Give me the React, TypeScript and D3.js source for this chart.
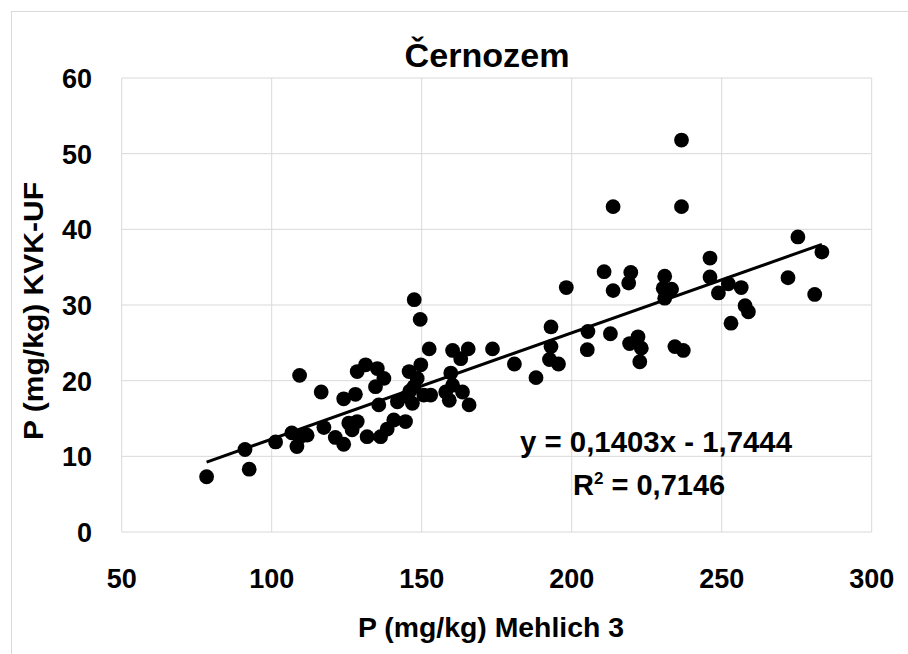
import React from "react";
import * as d3 from "d3";

const xTicks = [50, 100, 150, 200, 250, 300];
const yTicks = [0, 10, 20, 30, 40, 50, 60];

const mehlichX = [
  78.3, 91.1, 92.5, 101.3, 106.7, 108.4, 109.5, 111.8, 109.3, 116.5,
  117.4, 121.2, 124.0, 124.0, 125.7, 126.8, 127.9, 128.5, 128.5, 131.3,
  131.8, 135.2, 137.4, 134.6, 135.7, 136.3, 138.5, 140.7, 144.6, 141.9,
  145.2, 146.9, 145.8, 149.7, 147.4, 150.7, 153.0, 147.5, 149.5, 152.5,
  158.0, 159.7, 160.3, 159.2, 160.3, 163.0, 165.5, 163.6, 165.8, 173.6,
  180.9, 188.1, 193.1, 193.1, 192.6, 195.6, 198.2, 205.4, 205.2, 210.8,
  212.9, 213.8, 213.8, 219.7, 219.0, 219.3, 222.1, 222.7, 223.2, 231.0,
  230.5, 233.3, 231.0, 234.4, 237.2, 236.6, 236.6, 246.1, 246.1, 248.9,
  252.2, 253.1, 256.5, 257.8, 258.9, 272.1, 275.4, 281.0, 283.4, 148.5,
  146.0
];
const kvkY = [
  7.3, 10.9, 8.3, 11.9, 13.1, 11.3, 12.6, 12.8, 20.7, 18.5,
  13.8, 12.5, 11.6, 17.6, 14.4, 13.5, 18.2, 14.6, 21.2, 22.1,
  12.6, 21.6, 20.3, 19.2, 16.8, 12.6, 13.6, 14.8, 14.6, 17.2,
  17.9, 17.0, 21.2, 22.1, 19.2, 18.1, 18.1, 30.7, 28.1, 24.2,
  18.5, 21.0, 19.4, 17.4, 24.0, 22.9, 24.2, 18.5, 16.8, 24.2,
  22.2, 20.4, 27.1, 24.5, 22.8, 22.2, 32.3, 26.5, 24.1, 34.4,
  26.2, 31.9, 43.0, 34.3, 32.9, 24.9, 25.8, 22.5, 24.3, 33.8,
  32.2, 32.1, 30.9, 24.5, 24.0, 51.8, 43.0, 36.2, 33.7, 31.6,
  32.8, 27.6, 32.3, 29.9, 29.1, 33.6, 39.0, 31.4, 37.0, 20.3,
  18.6
];

const slope = 0.1403;
const intercept = -1.7444;
const titleText = "Černozem";
const xTitle = "P (mg/kg) Mehlich 3";
const yTitle = "P (mg/kg) KVK-UF";
const eqText = "y = 0,1403x - 1,7444";
const r2Value = "0,7146";

const FONT = "'Liberation Sans', Arial, sans-serif";

export default function App() {
  const x = d3.scaleLinear().domain([50, 300]).range([121.7, 871.7]);
  const y = d3.scaleLinear().domain([0, 60]).range([532, 78]);
  const points = mehlichX.map((v, i) => ({ x: v, y: kvkY[i] }));
  const xMin = d3.min(mehlichX) as number;
  const xMax = d3.max(mehlichX) as number;
  const line = d3
    .line<number>()
    .x((d) => x(d))
    .y((d) => y(slope * d + intercept));
  const grid = "#d9d9d9";

  return (
    <svg
      width={908}
      height={654}
      style={{ position: "absolute", left: 0, top: 0, background: "#fff" }}
      fontFamily={FONT}
    >
      <rect x={11.5} y={11.5} width={910} height={700} fill="#fff" stroke="#d9d9d9" strokeWidth={1} />
      {xTicks.map((t) => (
        <line key={"vx" + t} x1={x(t)} x2={x(t)} y1={y(0)} y2={y(60)} stroke={grid} strokeWidth={1} />
      ))}
      {yTicks.map((t) => (
        <line key={"hy" + t} x1={x(50)} x2={x(300)} y1={y(t)} y2={y(t)} stroke={grid} strokeWidth={1} />
      ))}
      {yTicks.map((t) => (
        <text key={"yl" + t} x={92} y={y(t) + 10} textAnchor="end" fontSize={27} fontWeight="bold" fill="#000">
          {t}
        </text>
      ))}
      {xTicks.map((t) => (
        <text key={"xl" + t} x={x(t)} y={588} textAnchor="middle" fontSize={27} fontWeight="bold" fill="#000">
          {t}
        </text>
      ))}
      {points.map((p, i) => (
        <circle key={i} cx={x(p.x)} cy={y(p.y)} r={7.4} fill="#000" />
      ))}
      <path d={line([xMin, xMax]) || ""} stroke="#000" strokeWidth={3} fill="none" />
      <text x={487} y={67} textAnchor="middle" fontSize={33} fontWeight="bold" textLength={165} lengthAdjust="spacingAndGlyphs">
        {titleText}
      </text>
      <text x={491} y={637} textAnchor="middle" fontSize={28} fontWeight="bold" textLength={266} lengthAdjust="spacingAndGlyphs">
        {xTitle}
      </text>
      <text
        transform="translate(43,311) rotate(-90)"
        textAnchor="middle"
        fontSize={27}
        fontWeight="bold"
        textLength={258}
        lengthAdjust="spacingAndGlyphs"
      >
        {yTitle}
      </text>
      <text x={520} y={452} fontSize={29} fontWeight="bold" textLength={272} lengthAdjust="spacingAndGlyphs">
        {eqText}
      </text>
      <text x={573} y={495} fontSize={29} fontWeight="bold">
        R<tspan dy={-11} fontSize={17}>2</tspan>
        <tspan dy={11}>{" = " + r2Value}</tspan>
      </text>
    </svg>
  );
}
